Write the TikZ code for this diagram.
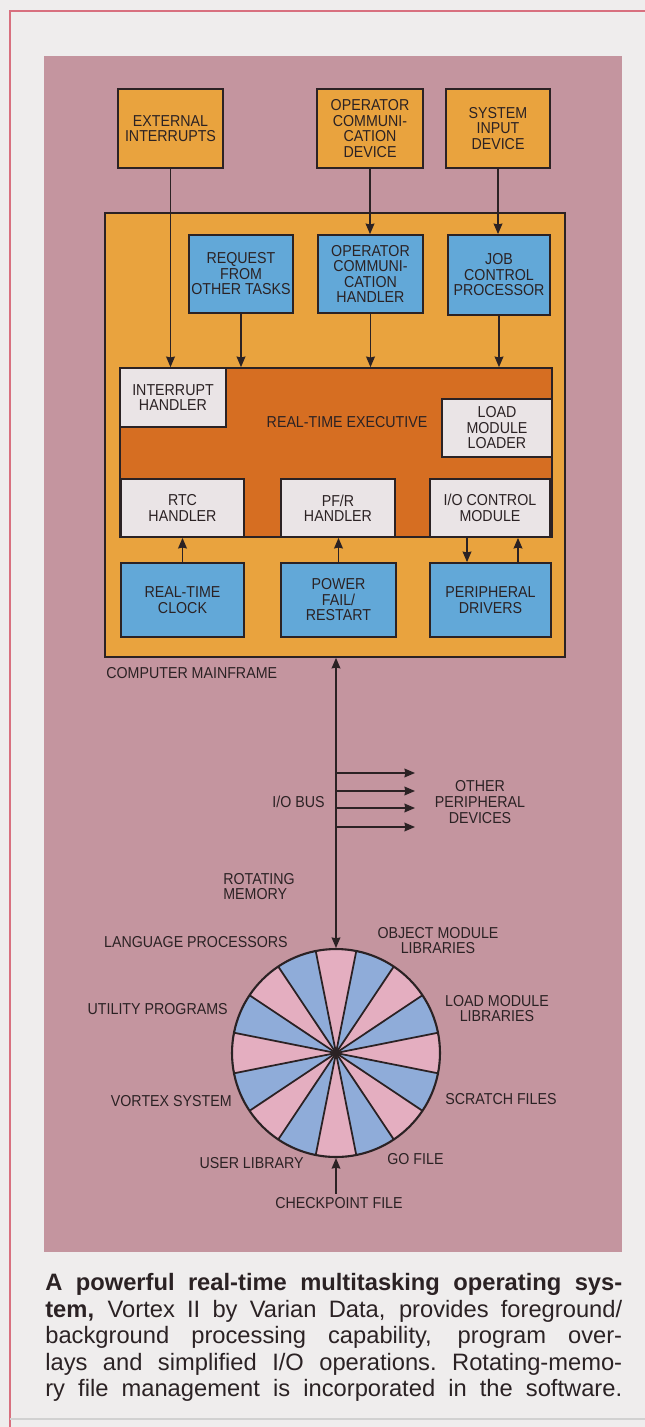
\documentclass[tikz,border=0pt]{standalone}
\usepackage{fontspec}
\setmainfont{Liberation Sans}
\newfontfamily\diafont[FakeStretch=0.9]{Liberation Sans}
\usepackage{xcolor}
\usepackage{tikz}
\usetikzlibrary{arrows.meta,positioning,calc}
\definecolor{PageGrey}{HTML}{EFEDED}
\definecolor{FrameRed}{HTML}{D8707F}
\definecolor{PanelPink}{HTML}{C4959F}
\definecolor{BoxOrange}{HTML}{E9A33E}
\definecolor{ExecOrange}{HTML}{D66E22}
\definecolor{BoxBlue}{HTML}{62A8D8}
\definecolor{BoxWhite}{HTML}{EAE4E6}
\definecolor{DiskPink}{HTML}{E4AEC0}
\definecolor{DiskBlue}{HTML}{8FACD9}
\definecolor{InkDark}{HTML}{2B2224}
% one justified caption line
\newcommand{\capline}[1]{\hbox to 11.54cm{\spaceskip=0.28em plus 1fil\xspaceskip=0.28em plus 1fil\relax #1}}
\tikzset{
  % Base box
  BX/.style={rectangle,draw=InkDark,line width=1pt,
             text centered,align=center,inner sep=1pt,
             font=\diafont\fontsize{9}{8.8}\selectfont,text=InkDark},
  % Colour variants
  oB/.style={BX,fill=BoxOrange},
  bB/.style={BX,fill=BoxBlue},
  wB/.style={BX,fill=BoxWhite},
  % Arrow
  arr/.style={-{Stealth[length=6pt,width=5pt,inset=0.5pt]},line width=0.8pt,draw=InkDark},
  arr2/.style={{Stealth[length=6pt,width=5pt,inset=0.5pt]}-{Stealth[length=6pt,width=5pt,inset=0.5pt]},line width=0.8pt,draw=InkDark},
  % Label style
  LB/.style={font=\diafont\fontsize{9}{9}\selectfont,text=InkDark,inner sep=0pt,align=center}
}

\begin{document}
\begin{tikzpicture}[x=0.02cm,y=-0.02cm]
  \useasboundingbox (0,0) rectangle (645,1427);
  \fill[PageGrey] (0,0) rectangle (645,1427);
  \draw[FrameRed,line width=1.2pt] (645,11) -- (10,11) -- (10,1427);
  \draw[black!18,line width=0.8pt] (10,1419) -- (645,1419);
  \fill[PanelPink] (44,56) rectangle (622,1252);

  % outside devices
  \node[oB,minimum width=2.1cm, minimum height=1.58cm] (ext) at (170.5,128.5) {EXTERNAL\\INTERRUPTS};
  \node[oB,minimum width=2.12cm,minimum height=1.58cm] (ocd) at (370,128.5)   {OPERATOR\\COMMUNI-\\CATION\\DEVICE};
  \node[oB,minimum width=2.08cm,minimum height=1.58cm] (sid) at (498,128.5)   {SYSTEM\\INPUT\\DEVICE};

  % mainframe
  \node[oB,minimum width=9.2cm,minimum height=8.88cm] (main) at (335,435) {};
  \node[bB,minimum width=2.08cm,minimum height=1.56cm] (req) at (241,274)   {REQUEST\\FROM\\OTHER TASKS};
  \node[bB,minimum width=2.1cm, minimum height=1.56cm] (och) at (370.5,274) {OPERATOR\\COMMUNI-\\CATION\\HANDLER};
  \node[bB,minimum width=2.04cm,minimum height=1.6cm]  (jcp) at (499,275)   {JOB\\CONTROL\\PROCESSOR};

  % executive
  \node[BX,fill=ExecOrange,minimum width=8.64cm,minimum height=3.38cm] (exec) at (336,452.5) {};
  \node[LB] (execl) at (347,422) {REAL-TIME EXECUTIVE};
  \node[wB,minimum width=2.12cm,minimum height=1.18cm] (ih)   at (173,397.5) {INTERRUPT\\HANDLER};
  \node[wB,minimum width=2.2cm, minimum height=1.16cm] (lml)  at (497,428)   {LOAD\\MODULE\\LOADER};
  \node[wB,minimum width=2.46cm,minimum height=1.16cm] (rtch) at (182.5,508) {RTC\\HANDLER};
  \node[wB,minimum width=2.28cm,minimum height=1.16cm] (pfrh) at (338,508)   {PF/R\\HANDLER};
  \node[wB,minimum width=2.4cm, minimum height=1.16cm] (ioc)  at (490,508)   {I/O CONTROL\\MODULE};

  \node[bB,minimum width=2.46cm,minimum height=1.48cm] (rtc) at (182.5,600) {REAL-TIME\\CLOCK};
  \node[bB,minimum width=2.3cm, minimum height=1.48cm] (pfr) at (338.5,600) {POWER\\FAIL/\\RESTART};
  \node[bB,minimum width=2.42cm,minimum height=1.48cm] (pd)  at (490.5,600) {PERIPHERAL\\DRIVERS};
  \node[LB,anchor=west] (mfl) at (106,673) {COMPUTER MAINFRAME};

  \draw[arr](ext.south) -- (ext.south |- ih.north);
  \draw[arr](ocd.south) -- (ocd.south |- och.north);
  \draw[arr](sid.south) -- (sid.south |- jcp.north);
  \draw[arr](req.south) -- (req.south |- exec.north);
  \draw[arr](och.south) -- (och.south |- exec.north);
  \draw[arr](jcp.south) -- (jcp.south |- exec.north);
  \draw[arr](rtc.north) -- (rtc.north |- rtch.south);
  \draw[arr](pfr.north) -- (pfr.north |- pfrh.south);
  \draw[arr]([xshift=-0.47cm]pd.north |- ioc.south) -- ([xshift=-0.47cm]pd.north);
  \draw[arr]([xshift=0.55cm]pd.north) -- ([xshift=0.55cm]pd.north |- ioc.south);

  % rotating memory
  \coordinate (dc) at (336,1053);
  \foreach \k in {0,2,...,14}
    \fill[DiskPink] (dc) -- ++(22.5*\k-11.25:104) arc[start angle=22.5*\k-11.25,end angle=22.5*\k+11.25,radius=104] -- cycle;
  \foreach \k in {1,3,...,15}
    \fill[DiskBlue] (dc) -- ++(22.5*\k-11.25:104) arc[start angle=22.5*\k-11.25,end angle=22.5*\k+11.25,radius=104] -- cycle;
  \foreach \k in {0,...,15}
    \draw[InkDark,line width=1pt] (dc) -- ++(22.5*\k+11.25:104);
  \node[circle,draw=InkDark,line width=1.2pt,minimum size=4.16cm,inner sep=0pt] (disk) at (dc) {};
  \fill[InkDark] (dc) circle[radius=4];

  % I/O bus
  \draw[arr2](main.south -| disk.north) -- (disk.north);
  \foreach \i/\y in {1/773,2/791,3/808,4/827}{
    \coordinate (b\i) at (336,\y);
    \coordinate (p\i) at (415,\y);
    \draw[arr](b\i) -- (p\i);
  }
  \node[LB,anchor=east] (busl) at (325,802) {I/O BUS};
  \node[LB] (opd) at (480,802) {OTHER\\PERIPHERAL\\DEVICES};
  \node[LB,anchor=west,align=left] (rot) at (223,886.5) {ROTATING\\MEMORY};

  \node[LB,anchor=east] (lang) at (288,942)  {LANGUAGE PROCESSORS};
  \node[LB,anchor=east] (util) at (228,1009) {UTILITY PROGRAMS};
  \node[LB,anchor=east] (vort) at (232,1101) {VORTEX SYSTEM};
  \node[LB,anchor=east] (user) at (304,1163) {USER LIBRARY};
  \node[LB]             (obj)  at (438,940.5) {OBJECT MODULE\\LIBRARIES};
  \node[LB]             (lmod) at (497,1008.5) {LOAD MODULE\\LIBRARIES};
  \node[LB,anchor=west] (scr)  at (445,1099) {SCRATCH FILES};
  \node[LB,anchor=west] (go)   at (387,1159) {GO FILE};
  \node[LB]             (chk)  at (339,1203) {CHECKPOINT FILE};
  \draw[arr]([yshift=2pt]chk.north -| disk.south) -- (disk.south);

  % caption
  \node[anchor=north west,inner sep=0pt,align=left,text=InkDark,
        font=\fontsize{13.5}{15.1}\selectfont] (cap) at (45,1273) {%
    \capline{\bfseries A powerful real-time multitasking operating sys-}\\
    \capline{\textbf{tem,} Vortex II by Varian Data, provides foreground/}\\
    \capline{background processing capability, program over-}\\
    \capline{lays and simplified I/O operations. Rotating-memo-}\\
    \capline{ry file management is incorporated in the software.}};
\end{tikzpicture}
\end{document}
